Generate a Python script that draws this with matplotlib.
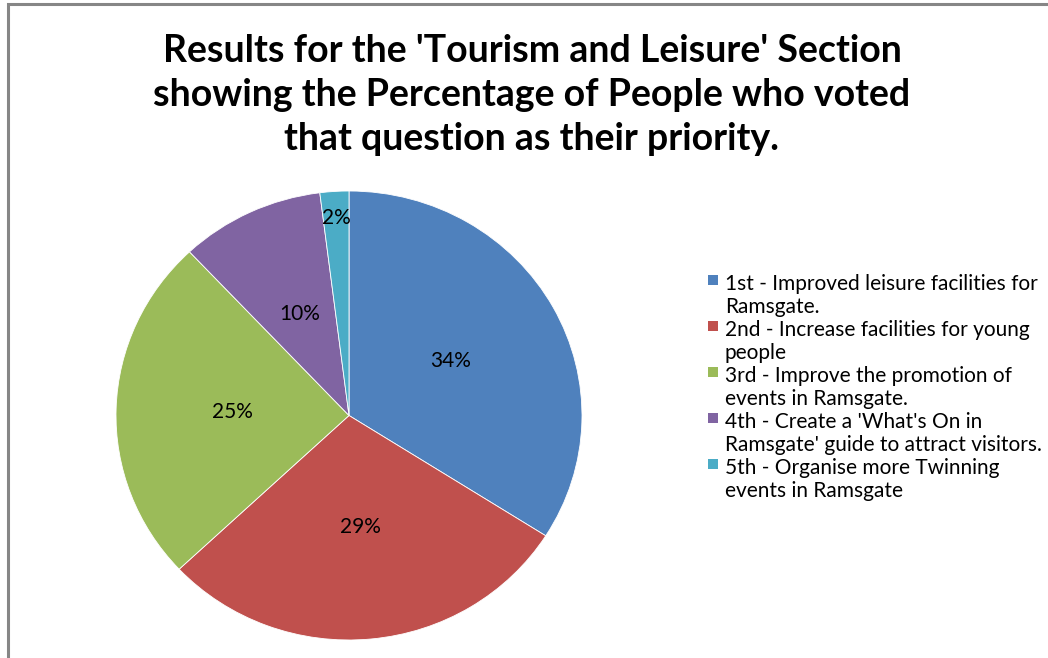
import matplotlib
matplotlib.use('Agg')
import matplotlib.pyplot as plt
from matplotlib.patches import Rectangle
import numpy as np

plt.rcParams['font.family'] = ['Lato', 'DejaVu Sans']

# data
labels = ["1st - Improved leisure facilities for\nRamsgate.",
          "2nd - Increase facilities for young\npeople",
          "3rd - Improve the promotion of\nevents in Ramsgate.",
          "4th - Create a 'What's On in\nRamsgate' guide to attract visitors.",
          "5th - Organise more Twinning\nevents in Ramsgate"]
values = [34, 29, 25, 10, 2]
colors = ['#4F81BD', '#C0504D', '#9BBB59', '#8064A2', '#4BACC6']
# distance of each % label from centre (fraction of radius)
lab_dist = [0.5, 0.5, 0.5, 0.5, 0.88]

title = "Results for the 'Tourism and Leisure' Section\nshowing the Percentage of People who voted\nthat question as their priority."

W, H = 1048, 658
fig = plt.figure(figsize=(W/100, H/100), dpi=100)

# grey chart border
fig.patches.append(Rectangle((8/W, -0.1), 1.2, 1.1 - 4.5/H, transform=fig.transFigure,
                             fill=False, edgecolor='#868686', linewidth=2.2))

fig.text(532/W, 1 - 95/H, title, ha='center', va='center', fontsize=27,
         fontweight='bold', linespacing=1.37, color='black')

# pie axes (slightly elliptical like the original)
cx, cy, rx, ry = 349, 415.5, 233, 224.5
ax = fig.add_axes([(cx - rx)/W, (H - cy - ry)/H, 2*rx/W, 2*ry/H])
wedges, _ = ax.pie(values, colors=colors, startangle=90, counterclock=False,
                   wedgeprops=dict(edgecolor='white', linewidth=0.6))
ax.set_aspect('auto')
ax.set_xlim(-1, 1)
ax.set_ylim(-1, 1)

for w, v, d in zip(wedges, values, lab_dist):
    ang = np.deg2rad((w.theta1 + w.theta2) / 2)
    ax.text(d*np.cos(ang), d*np.sin(ang), '%d%%' % v, ha='center', va='center',
            fontsize=15, color='black')

# legend, drawn by hand so the square sits on the first line of each entry
y0, step = 280, 46
for i, (c, lab) in enumerate(zip(colors, labels)):
    y = y0 + i*step
    fig.patches.append(Rectangle((708/W, 1 - (y + 5)/H), 10/W, 10/H,
                                 transform=fig.transFigure, facecolor=c, edgecolor='none'))
    fig.text(725/W, 1 - (y - 6)/H, lab, ha='left', va='top', fontsize=15,
             linespacing=1.2, color='black', transform=fig.transFigure)

fig.savefig('out.png', dpi=100)
